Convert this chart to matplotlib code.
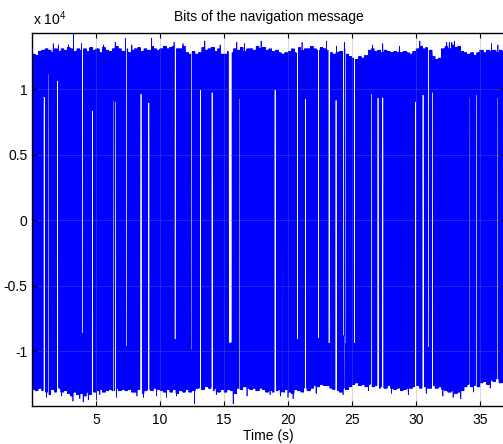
import numpy as np
import matplotlib
matplotlib.use("Agg")
import matplotlib.pyplot as plt
from matplotlib.ticker import FuncFormatter

plt.rcParams['font.family'] = ['Liberation Sans', 'DejaVu Sans']
plt.rcParams['mathtext.fontset'] = 'custom'
plt.rcParams['mathtext.rm'] = 'Liberation Sans'
plt.rcParams['mathtext.default'] = 'regular'

# navigation bit stream, 20 ms per bit, 37 s of data
bit_period = 0.02
duration = 37.0

# peak correlator output (x 1e4) in each 0.25 s window, positive and negative side
env_step = 0.25
upper_env = [1.27, 1.26, 1.29, 1.30, 1.31, 1.30, 1.28, 1.31, 1.29, 1.31, 1.30, 1.32,
             1.31, 1.29, 1.31, 1.30, 1.31, 1.29, 1.32, 1.30, 1.31, 1.28, 1.32, 1.30,
             1.29, 1.31, 1.33, 1.31, 1.29, 1.31, 1.28, 1.30, 1.31, 1.32, 1.29, 1.31,
             1.30, 1.33, 1.31, 1.30, 1.31, 1.33, 1.31, 1.32, 1.33, 1.31, 1.31, 1.33,
             1.28, 1.27, 1.29, 1.27, 1.28, 1.32, 1.30, 1.31, 1.32, 1.29, 1.31, 1.27,
             1.27, 1.29, 1.28, 1.31, 1.30, 1.32, 1.29, 1.31, 1.31, 1.30, 1.33, 1.31,
             1.32, 1.30, 1.31, 1.29, 1.30, 1.28, 1.27, 1.28, 1.29, 1.31, 1.28, 1.32,
             1.30, 1.31, 1.31, 1.33, 1.31, 1.30, 1.32, 1.31, 1.30, 1.28, 1.27, 1.28,
             1.29, 1.31, 1.27, 1.25, 1.24, 1.23, 1.25, 1.24, 1.26, 1.30, 1.31, 1.29,
             1.30, 1.28, 1.30, 1.29, 1.28, 1.29, 1.28, 1.28, 1.29, 1.28, 1.27, 1.29,
             1.31, 1.33, 1.31, 1.32, 1.30, 1.25, 1.23, 1.24, 1.31, 1.33, 1.31, 1.34,
             1.32, 1.33, 1.29, 1.28, 1.27, 1.28, 1.26, 1.28, 1.30, 1.28, 1.30, 1.29,
             1.30, 1.28, 1.30, 1.29]
lower_env = [1.29, 1.30, 1.28, 1.30, 1.31, 1.33, 1.29, 1.31, 1.28, 1.31, 1.30, 1.32,
             1.34, 1.31, 1.33, 1.32, 1.34, 1.31, 1.33, 1.31, 1.30, 1.29, 1.31, 1.30,
             1.29, 1.30, 1.28, 1.30, 1.29, 1.30, 1.29, 1.31, 1.31, 1.29, 1.32, 1.30,
             1.29, 1.30, 1.28, 1.29, 1.30, 1.31, 1.29, 1.31, 1.29, 1.32, 1.30, 1.31,
             1.29, 1.31, 1.30, 1.28, 1.28, 1.29, 1.27, 1.28, 1.30, 1.28, 1.31, 1.29,
             1.31, 1.29, 1.30, 1.32, 1.28, 1.29, 1.27, 1.28, 1.29, 1.28, 1.30, 1.28,
             1.29, 1.31, 1.30, 1.31, 1.30, 1.29, 1.31, 1.29, 1.31, 1.32, 1.29, 1.30,
             1.31, 1.28, 1.30, 1.28, 1.26, 1.27, 1.25, 1.26, 1.26, 1.28, 1.29, 1.30,
             1.31, 1.28, 1.29, 1.27, 1.25, 1.24, 1.26, 1.25, 1.27, 1.25, 1.27, 1.26,
             1.28, 1.27, 1.28, 1.26, 1.28, 1.29, 1.28, 1.30, 1.29, 1.28, 1.28, 1.27,
             1.26, 1.28, 1.27, 1.28, 1.28, 1.26, 1.28, 1.27, 1.29, 1.30, 1.31, 1.30,
             1.32, 1.31, 1.30, 1.27, 1.25, 1.27, 1.26, 1.27, 1.24, 1.23, 1.25, 1.22,
             1.23, 1.21, 1.24, 1.22]

# isolated extreme samples (time s, value x 1e4)
spike_times = [3.24, 7.30, 9.35, 13.50, 17.90, 23.00, 24.40, 30.30, 32.60, 33.00,
               1.66, 2.06, 2.84, 3.88, 4.40, 5.30, 5.60, 6.50, 7.80, 8.70, 9.74,
               11.10, 11.80, 14.70, 16.00, 16.60, 18.60, 21.10, 22.20, 23.80, 26.60,
               27.40, 28.70, 30.80, 32.40, 32.80, 34.50, 35.90, 36.40,
               3.20, 4.00, 5.05, 12.70, 15.73, 20.00, 20.40, 33.50,
               1.15, 2.30, 3.75, 4.40, 5.30, 6.60, 8.20, 8.70, 9.74, 10.50, 11.30,
               14.40, 16.80, 18.60, 19.40, 22.20, 24.30, 26.30, 28.10, 29.40, 30.80,
               32.10, 32.90, 34.50, 35.80]
spike_values = [1.43, 1.39, 1.39, 1.37, 1.37, 1.37, 1.36, 1.37, 1.36, 1.37,
                1.35, 1.34, 1.34, 1.35, 1.33, 1.35, 1.34, 1.36, 1.34, 1.35, 1.34,
                1.36, 1.35, 1.34, 1.36, 1.35, 1.35, 1.36, 1.34, 1.33, 1.34,
                1.35, 1.33, 1.35, 1.36, 1.36, 1.33, 1.35, 1.34,
                -1.38, -1.385, -1.37, -1.40, -1.40, -1.35, -1.36, -1.36,
                -1.35, -1.34, -1.36, -1.37, -1.33, -1.35, -1.34, -1.35, -1.34, -1.35,
                -1.34, -1.33, -1.34, -1.33, -1.34, -1.32, -1.33, -1.30, -1.32, -1.33,
                -1.32, -1.34, -1.35, -1.31, -1.28]

# runs of identical bits: centre (s), length (s), inner level (x 1e4, sign = bit)
hold_centers = [0.96, 3.93, 4.71, 6.54, 7.34, 8.52, 9.12, 9.32, 11.20, 13.15,
                14.09, 15.47, 19.00, 20.75, 21.35, 22.37, 23.23, 23.75, 24.35, 25.20,
                26.50, 27.05, 27.40, 29.97, 30.57, 34.70,
                1.28, 1.98, 6.35, 9.92, 12.45, 16.20, 19.60, 24.50, 26.10, 30.96,
                31.30, 32.90, 34.20, 36.35]
hold_lengths = [0.15] * 11 + [0.30] + [0.15] * 14 + [0.09] * 14
hold_levels = [0.945, -0.86, 0.84, 0.91, -0.96, 0.97, 0.90, -1.24, -0.91, 1.00,
               0.98, -0.935, 1.00, -0.91, 0.93, -0.90, -0.94, 0.92, -0.88, -0.94,
               0.97, 0.94, 0.94, 0.91, 0.96, 0.96,
               1.12, 1.07, 0.92, 0.87, -0.99, 0.93, 1.07, -0.94, -0.99, -0.97,
               0.98, 0.97, 0.94, 0.94]

t = np.arange(0, duration, bit_period)
win = np.minimum((t / env_step).astype(int), len(upper_env) - 1)
top = np.array(upper_env)[win] * 1e4
bot = -np.array(lower_env)[win] * 1e4
sig = np.where(np.arange(len(t)) % 2 == 0, top, bot)

for c, d, lev in zip(hold_centers, hold_lengths, hold_levels):
    idx = np.nonzero(np.abs(t - c) <= d / 2)[0]
    outer = top[idx] if lev > 0 else bot[idx]
    sig[idx] = np.where(np.arange(len(idx)) % 2 == 0, outer, lev * 1e4)

for ts, v in zip(spike_times, spike_values):
    sig[np.argmin(np.abs(t - ts))] = v * 1e4

fig = plt.figure(figsize=(5.03, 4.44), dpi=100)
ax = fig.add_axes([32 / 503, 38 / 444, 473.6 / 503, 373 / 444])
ax.plot(t, sig, color=(0, 0, 1), linewidth=0.5)

ax.set_xlim(0, 37)
ax.set_ylim(-14160, 14310)
ax.set_xticks([5, 10, 15, 20, 25, 30, 35])
ax.set_yticks([-1e4, -5e3, 0, 5e3, 1e4])
ax.yaxis.set_major_formatter(FuncFormatter(lambda v, p: '%g' % (v / 1e4)))
ax.tick_params(direction='in', top=True, right=True, length=3.6, width=0.8,
               labelsize=10, pad=5)
ax.tick_params(axis='y', pad=3.4)
ax.grid(True, color=(0.5, 0.5, 0.5), alpha=0.35, linewidth=0.6, zorder=3)
ax.set_axisbelow(False)
for s in ax.spines.values():
    s.set_linewidth(1.0)

ax.set_title('Bits of the navigation message', fontsize=10, pad=8.6)
ax.set_xlabel('Time (s)', fontsize=10, labelpad=1.5)
ax.annotate('x 10$^4$', xy=(0, 1), xycoords='axes fraction', xytext=(1, 6),
            textcoords='offset points', fontsize=10, va='baseline', ha='left')

fig.savefig('out.png', dpi=100)
